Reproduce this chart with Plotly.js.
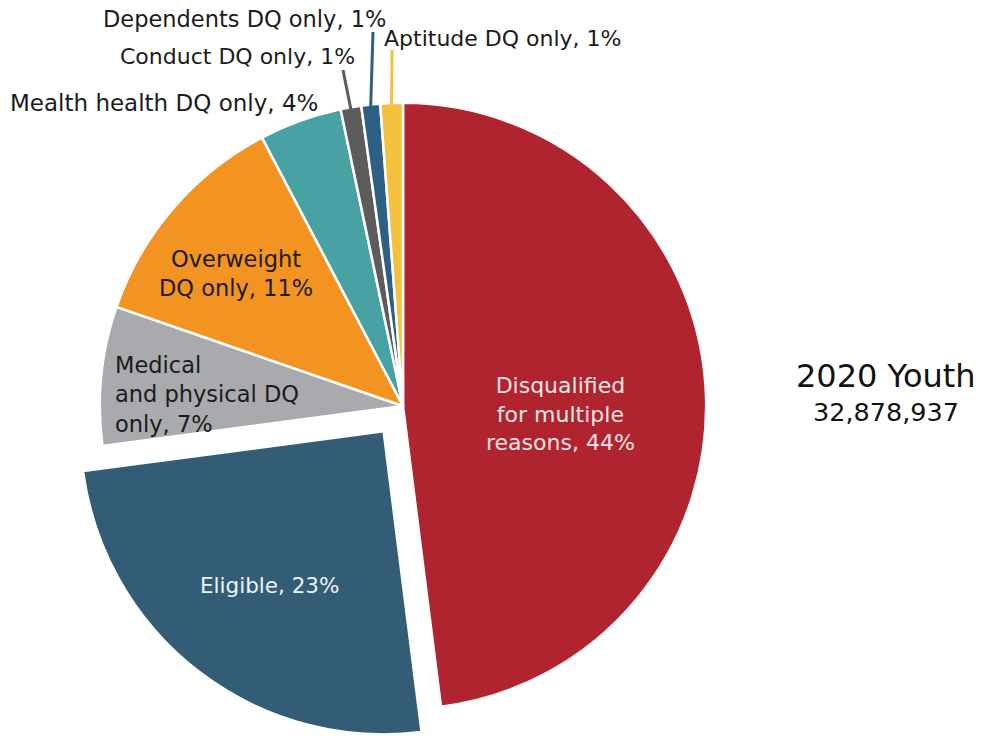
<!DOCTYPE html>
<html>
<head>
<meta charset="utf-8">
<script src="https://cdn.plot.ly/plotly-3.0.1.min.js"></script>
<style>
html,body{margin:0;padding:0;background:#fff;overflow:hidden;}
#wrap{width:981px;height:736px;overflow:hidden;}
</style>
</head>
<body>
<div id="wrap"><div id="chart"></div></div>
<script>
// ---- data ----
const categories = ["Disqualified for multiple reasons", "Eligible", "Medical and physical DQ only",
  "Overweight DQ only", "Mealth health DQ only", "Conduct DQ only", "Dependents DQ only", "Aptitude DQ only"];
const sliceShares = [48.0, 24.9, 7.4, 12.0, 4.4, 1.1, 1.0, 1.2];   // visual slice sizes
const labelTexts = ["Disqualified<br>for multiple<br>reasons, 44%", "Eligible, 23%",
  "Medical<br>and physical DQ<br>only, 7%", "Overweight<br>DQ only, 11%",
  "Mealth health DQ only, 4%", "Conduct DQ only, 1%", "Dependents DQ only, 1%", "Aptitude DQ only, 1%"];
const sliceColors = ["#b02430", "#335c76", "#a8aaad", "#f39322", "#48a2a4", "#5c5c5c", "#2d6083", "#f4c13f"];
const pulls = [0, 0.105, 0, 0, 0, 0, 0, 0];
const titleLines = ["2020 Youth", "32,878,937"];

// ---- layout geometry ----
const W = 981, H = 760;
const M = {l: 68, r: 243, t: 71, b: 19};
const PW = W - M.l - M.r, PH = H - M.t - M.b;
const px = x => (x - M.l) / PW;
const py = y => 1 - (y - M.t) / PH;
const FONT = "DejaVu Sans, Open Sans, sans-serif";

// pie centre/radius as Plotly computes them
const maxPull = Math.max(...pulls);
const cx = M.l + PW / 2, cy = M.t + PH / 2;
const R = Math.min(PW, PH) / 2 / (1 + maxPull);
const total = sliceShares.reduce((a, b) => a + b, 0);
const midAngles = [];
let acc = 0;
sliceShares.forEach(v => { midAngles.push((acc + v / 2) / total * 2 * Math.PI); acc += v; });
const edgePoint = i => [cx + R * Math.sin(midAngles[i]), cy - R * Math.cos(midAngles[i])];

const trace = {
  type: "pie",
  labels: categories,
  values: sliceShares,
  sort: false,
  direction: "clockwise",
  rotation: 0,
  pull: pulls,
  textinfo: "none",
  hoverinfo: "label",
  marker: {colors: sliceColors, line: {color: "#ffffff", width: 2.5}},
  showlegend: false
};

const dark = "#1b1b1b";
function ann(text, x, y, size, color, opts) {
  return Object.assign({text: text, x: px(x), y: py(y), xref: "paper", yref: "paper",
    xanchor: "center", yanchor: "middle", align: "center",
    showarrow: false, font: {family: FONT, size: size, color: color || dark}}, opts || {});
}

const annotations = [
  ann(labelTexts[0], 560, 414, 22, "#f6e6e6"),
  ann(labelTexts[1], 269, 585, 21.5, "#eef3f6"),
  ann(labelTexts[2], 113, 394, 22.5, dark, {xanchor: "left", align: "left"}),
  ann(labelTexts[3], 236, 273, 22.5),
  ann(labelTexts[4], 164, 103, 23),
  ann(labelTexts[5], 237, 57, 22),
  ann(labelTexts[6], 244, 19, 22.5),
  ann(labelTexts[7], 503, 38, 22),
  ann(titleLines[0], 886, 376, 32, "#111"),
  ann(titleLines[1], 886, 412, 25.5, "#111")
];

// leader lines for the thin slices
const leaderEnds = {5: [343, 70], 6: [373, 32], 7: [392, 50]};
const shapes = Object.keys(leaderEnds).map(k => {
  const i = +k, p = edgePoint(i), e = leaderEnds[k];
  return {type: "line", xref: "paper", yref: "paper",
    x0: px(p[0]), y0: py(p[1] + 2), x1: px(e[0]), y1: py(e[1]),
    line: {color: sliceColors[i], width: 3}};
});

const layout = {
  width: W, height: H,
  margin: M,
  paper_bgcolor: "#ffffff",
  plot_bgcolor: "#ffffff",
  font: {family: FONT},
  annotations: annotations,
  shapes: shapes,
  showlegend: false
};

Plotly.newPlot("chart", [trace], layout, {displayModeBar: false, staticPlot: true});
</script>
</body>
</html>
